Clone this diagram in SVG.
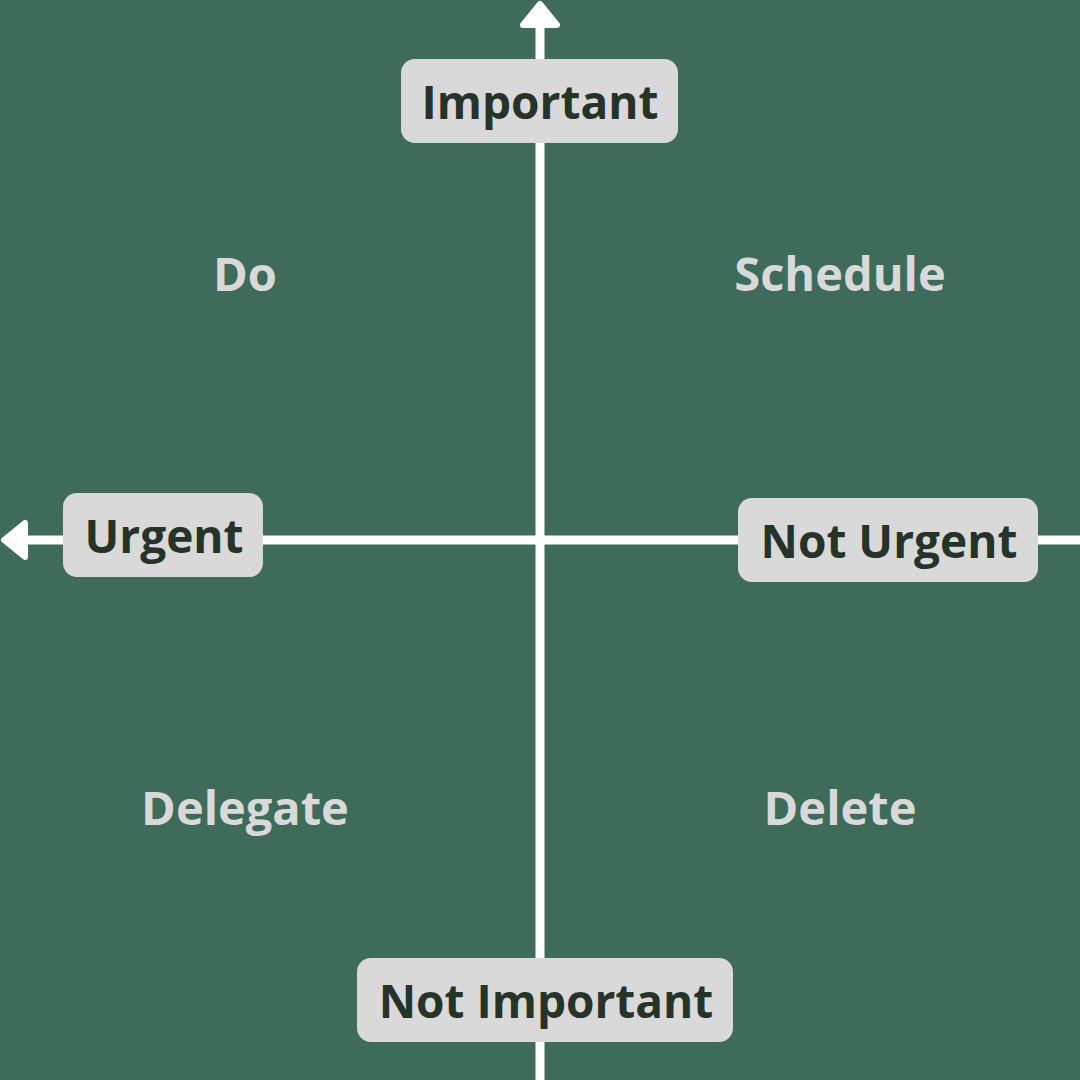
<svg xmlns="http://www.w3.org/2000/svg" width="1080" height="1080" viewBox="0 0 1080 1080">
<style>
.axis{stroke:#ffffff;stroke-width:9;fill:none}
.head{fill:#ffffff;stroke:#ffffff;stroke-width:6;stroke-linejoin:round}
.box{fill:#d9d9d9}
.lbl{font-family:"Open Sans","Liberation Sans",sans-serif;font-weight:700;font-size:46px;fill:#263328;text-anchor:middle}
.quad{font-family:"Open Sans","Liberation Sans",sans-serif;font-weight:700;font-size:47px;fill:#d9d9d9;text-anchor:middle}
</style>
<rect width="1080" height="1080" fill="#3f6b5a"/>
<g id="connectors">
<line class="axis" x1="540" y1="26" x2="540" y2="1080"/>
<line class="axis" x1="28" y1="540" x2="1080" y2="540"/>
<polygon class="head" points="540,4 557,25 523,25"/>
<polygon class="head" points="4,540 25,523 25,557"/>
</g>
<g id="important"><rect class="box" x="401" y="59" width="277" height="84" rx="14"/><text class="lbl" x="540" y="119">Important</text></g>
<g id="urgent"><rect class="box" x="63" y="493" width="200" height="84" rx="14"/><text class="lbl" x="164" y="553">Urgent</text></g>
<g id="not-urgent"><rect class="box" x="738" y="498" width="300" height="84" rx="14"/><text class="lbl" x="889" y="558">Not Urgent</text></g>
<g id="not-important"><rect class="box" x="357" y="958" width="376" height="84" rx="14"/><text class="lbl" x="546" y="1018">Not Important</text></g>
<g id="do"><text class="quad" x="245" y="291">Do</text></g>
<g id="schedule"><text class="quad" x="840" y="291">Schedule</text></g>
<g id="delegate"><text class="quad" x="245" y="825">Delegate</text></g>
<g id="delete"><text class="quad" x="840" y="825">Delete</text></g>
</svg>
